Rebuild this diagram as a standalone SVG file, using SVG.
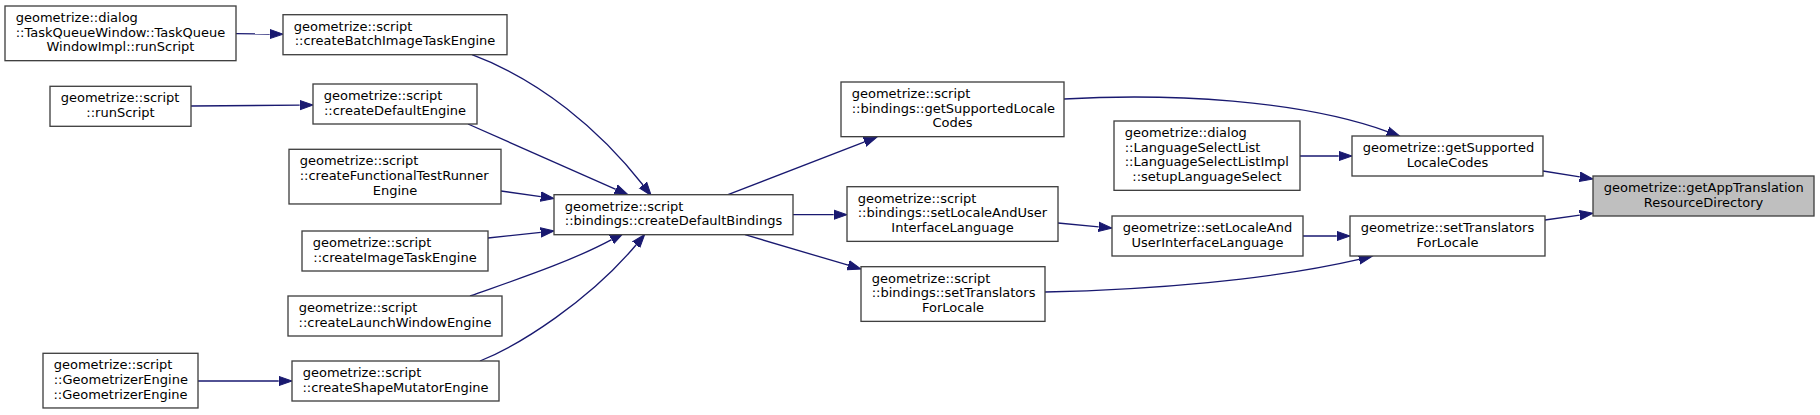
<svg xmlns="http://www.w3.org/2000/svg" width="1820" height="415" viewBox="0 0 1820 415">
<style>
.node rect{fill:#ffffff;stroke:#404040;stroke-width:1.33}
.node.root rect{fill:#bfbfbf}
text{font-family:"DejaVu Sans","Liberation Sans",sans-serif;font-size:13px;fill:#000000}
.m{text-anchor:middle}
.edges path{fill:none;stroke:#191970;stroke-width:1.33;marker-end:url(#ah)}
</style>
<defs>
<marker id="ah" markerUnits="userSpaceOnUse" markerWidth="16" markerHeight="12" refX="0" refY="6" orient="auto" viewBox="0 0 16 12">
<path d="M0,1.33 L13.33,6 L0,10.67 z" fill="#191970" stroke="#191970" stroke-width="1"/>
</marker>
</defs>
<rect width="1820" height="415" fill="#ffffff"/>
<g class="edges">
<path d="M236,33.7 L269.7,34"/>
<path d="M191,106 L299.7,105.1"/>
<path d="M198,381 L278.7,381"/>
<path d="M501,191 L540.8,196.6"/>
<path d="M488,238 L540.8,232.4"/>
<path d="M793,214.7 L833.7,214.7"/>
<path d="M1300,156 L1338.7,156"/>
<path d="M1303,236 L1336.7,236"/>
<path d="M1058,223 L1098.7,226.8"/>
<path d="M1543,171 L1579.8,176.9"/>
<path d="M1545,220 L1579.8,215.1"/>
<path d="M728,194.7 L864.6,141.8"/>
<path d="M745,234.7 L848.2,265.2"/>
<path d="M468,124 L615.8,189.3"/>
<path d="M470,296 C515,280 570,262 611.6,239.6"/>
<path d="M480,361 C520,345 590,300 636.2,244.7"/>
<path d="M472,54.7 C540,80 600,130 643,185"/>
<path d="M1064,99 C1170,93 1300,100 1387.4,131.6"/>
<path d="M1045,292 C1150,290 1270,280 1359.1,259.4"/>
</g>
<g id="nodeA" class="node"><rect x="5" y="6" width="231" height="54.67"/><text x="15.7" y="22">geometrize::dialog</text><text x="15.7" y="36.67">::TaskQueueWindow::TaskQueue</text><text class="m" x="120.5" y="51.33">WindowImpl::runScript</text></g>
<g id="nodeB" class="node"><rect x="283" y="14.7" width="224" height="40"/><text x="293.7" y="30.7">geometrize::script</text><text class="m" x="395" y="45.3">::createBatchImageTaskEngine</text></g>
<g id="nodeC" class="node"><rect x="50" y="86.3" width="141" height="40"/><text x="60.7" y="102.3">geometrize::script</text><text class="m" x="120.5" y="117">::runScript</text></g>
<g id="nodeD" class="node"><rect x="313" y="84" width="164" height="40"/><text x="323.7" y="100">geometrize::script</text><text class="m" x="395" y="114.7">::createDefaultEngine</text></g>
<g id="nodeE" class="node"><rect x="289" y="149.3" width="212" height="54.67"/><text x="299.7" y="165.3">geometrize::script</text><text x="299.7" y="180">::createFunctionalTestRunner</text><text class="m" x="395" y="194.67">Engine</text></g>
<g id="nodeF" class="node"><rect x="302" y="231" width="186" height="40"/><text x="312.7" y="247">geometrize::script</text><text class="m" x="395" y="261.7">::createImageTaskEngine</text></g>
<g id="nodeG" class="node"><rect x="288" y="296" width="214" height="40"/><text x="298.7" y="312">geometrize::script</text><text class="m" x="395" y="326.7">::createLaunchWindowEngine</text></g>
<g id="nodeH" class="node"><rect x="43" y="353.3" width="155" height="54.67"/><text x="53.7" y="369.3">geometrize::script</text><text x="53.7" y="384">::GeometrizerEngine</text><text class="m" x="120.5" y="398.67">::GeometrizerEngine</text></g>
<g id="nodeI" class="node"><rect x="292" y="361" width="207" height="40"/><text x="302.7" y="377">geometrize::script</text><text class="m" x="395.5" y="391.7">::createShapeMutatorEngine</text></g>
<g id="nodeJ" class="node"><rect x="554" y="194.7" width="239" height="40"/><text x="564.7" y="210.7">geometrize::script</text><text class="m" x="673.5" y="225.3">::bindings::createDefaultBindings</text></g>
<g id="nodeK" class="node"><rect x="841" y="82" width="223" height="54.67"/><text x="851.7" y="98">geometrize::script</text><text x="851.7" y="112.67">::bindings::getSupportedLocale</text><text class="m" x="952.5" y="127.33">Codes</text></g>
<g id="nodeL" class="node"><rect x="847" y="186.7" width="211" height="54.67"/><text x="857.7" y="202.7">geometrize::script</text><text x="857.7" y="217.3">::bindings::setLocaleAndUser</text><text class="m" x="952.5" y="232">InterfaceLanguage</text></g>
<g id="nodeM" class="node"><rect x="861" y="266.7" width="184" height="54.67"/><text x="871.7" y="282.7">geometrize::script</text><text x="871.7" y="297.3">::bindings::setTranslators</text><text class="m" x="953" y="312">ForLocale</text></g>
<g id="nodeN" class="node"><rect x="1114" y="121" width="186" height="69.33"/><text x="1124.7" y="137">geometrize::dialog</text><text x="1124.7" y="151.67">::LanguageSelectList</text><text x="1124.7" y="166.33">::LanguageSelectListImpl</text><text class="m" x="1207" y="181">::setupLanguageSelect</text></g>
<g id="nodeO" class="node"><rect x="1112" y="216" width="191" height="40"/><text x="1122.7" y="232">geometrize::setLocaleAnd</text><text class="m" x="1207.5" y="246.67">UserInterfaceLanguage</text></g>
<g id="nodeP" class="node"><rect x="1352" y="136" width="191" height="40"/><text x="1362.7" y="152">geometrize::getSupported</text><text class="m" x="1447.5" y="166.67">LocaleCodes</text></g>
<g id="nodeQ" class="node"><rect x="1350" y="216" width="195" height="40"/><text x="1360.7" y="232">geometrize::setTranslators</text><text class="m" x="1447.5" y="246.67">ForLocale</text></g>
<g id="nodeR" class="node root"><rect x="1593" y="176" width="221" height="40"/><text x="1603.7" y="192">geometrize::getAppTranslation</text><text class="m" x="1703.5" y="206.67">ResourceDirectory</text></g>
</svg>
